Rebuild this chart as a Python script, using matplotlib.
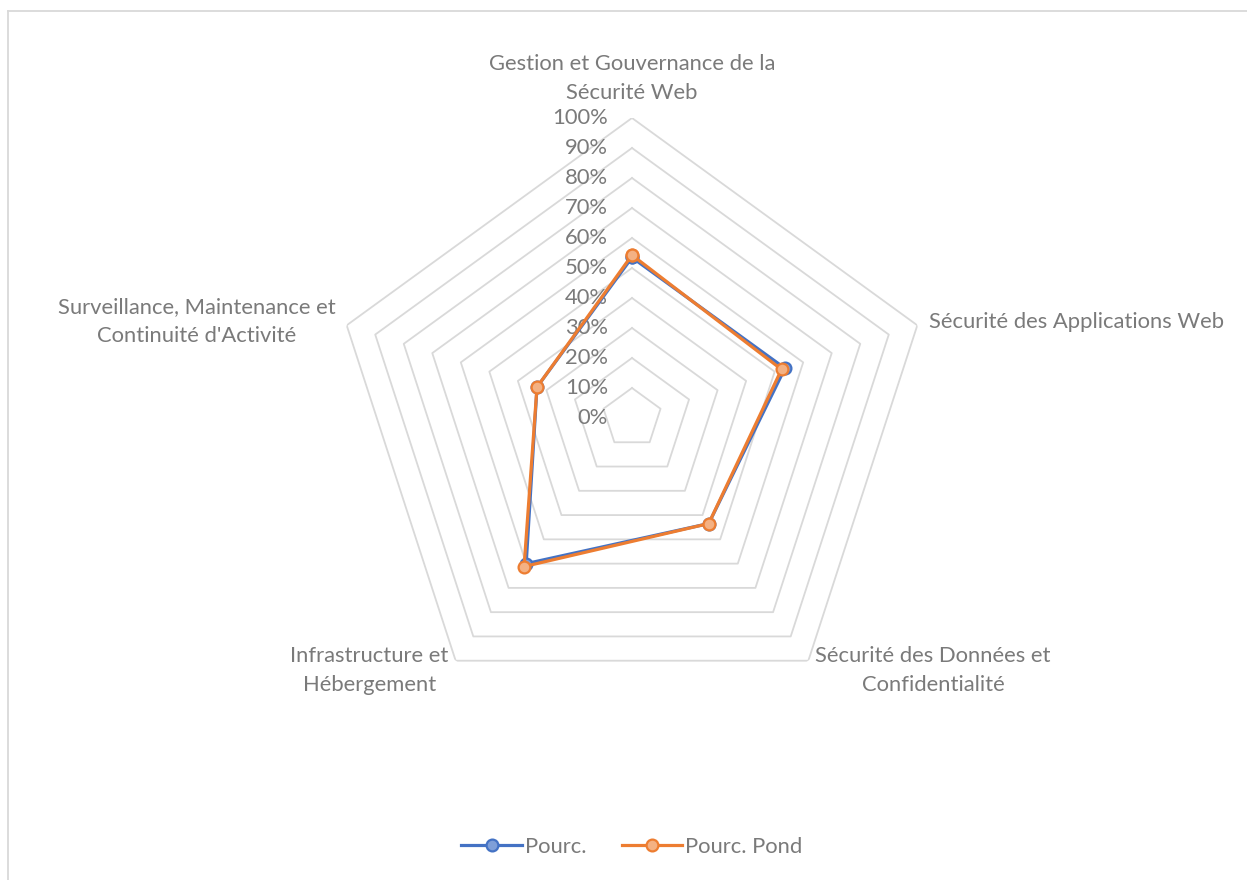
import numpy as np
import matplotlib
matplotlib.use("Agg")
import matplotlib.pyplot as plt
from matplotlib.lines import Line2D

# Data
categories = [
    "Gestion et Gouvernance de la\nSécurité Web",
    "Sécurité des Applications Web",
    "Sécurité des Données et\nConfidentialité",
    "Infrastructure et\nHébergement",
    "Surveillance, Maintenance et\nContinuité d'Activité",
]
pourc = [53.5, 53.6, 43.5, 60.0, 33.3]
pourc_pond = [54.3, 52.4, 43.5, 61.2, 33.3]
ticks = [0, 10, 20, 30, 40, 50, 60, 70, 80, 90, 100]

plt.rcParams['font.family'] = ['Lato', 'DejaVu Sans']
txt_color = '#7a7a7a'
grid_color = '#d9d9d9'
fs = 15.8

fig = plt.figure(figsize=(12.47, 8.8), dpi=100)
W, H = 1247, 880
cx, cy, R = 632, 418, 300
ax = fig.add_axes([(cx - R) / W, (H - cy - R) / H, 2 * R / W, 2 * R / H], projection='polar')

n = len(categories)
# clockwise starting from top
angles = [np.pi / 2 - 2 * np.pi * i / n for i in range(n)]
ang_closed = angles + angles[:1]

ax.set_ylim(0, 100)
ax.set_xticks([])
ax.set_yticks([])
ax.grid(False)
ax.spines['polar'].set_visible(False)
ax.patch.set_visible(False)

# pentagon grid
for t in ticks:
    ax.plot(ang_closed, [t] * (n + 1), color=grid_color, lw=1.3, zorder=1)

# radial labels
for t in ticks:
    ax.annotate(f"{t}%", xy=(np.pi / 2, t), xytext=(-24, 0), textcoords='offset pixels',
                ha='right', va='center', fontsize=fs, color=txt_color, zorder=2)

# category labels
aligns = [('center', 'bottom'), ('left', 'center'), ('left', 'center'),
          ('right', 'center'), ('right', 'center')]
for a, lab, (ha, va) in zip(angles, categories, aligns):
    r = 105 if va == 'bottom' else 104
    ax.text(a, r, lab, ha=ha, va=va, multialignment='center', fontsize=fs,
            color=txt_color, linespacing=1.55)

# series
ax.plot(ang_closed, pourc + pourc[:1], color='#4472C4', lw=2.3, marker='o', ms=8.5,
        mfc='#7F9FD8', mec='#4472C4', mew=1.6, label='Pourc.', zorder=3)
ax.plot(ang_closed, pourc_pond + pourc_pond[:1], color='#ED7D31', lw=2.3, marker='o', ms=8.5,
        mfc='#F4B183', mec='#ED7D31', mew=1.6, label='Pourc. Pond', zorder=4)

fig.legend(loc='center', bbox_to_anchor=(cx / W, (H - 847) / H), ncol=2, frameon=False,
           fontsize=fs, labelcolor=txt_color, handlelength=2.75, columnspacing=1.6,
           handletextpad=0.15)

# chart border
fig.add_artist(Line2D([8 / W, 1], [1 - 11 / H, 1 - 11 / H], color='#d9d9d9', lw=1.3))
fig.add_artist(Line2D([8 / W, 8 / W], [0, 1 - 11 / H], color='#d9d9d9', lw=1.3))

fig.savefig('out.png', dpi=100)
